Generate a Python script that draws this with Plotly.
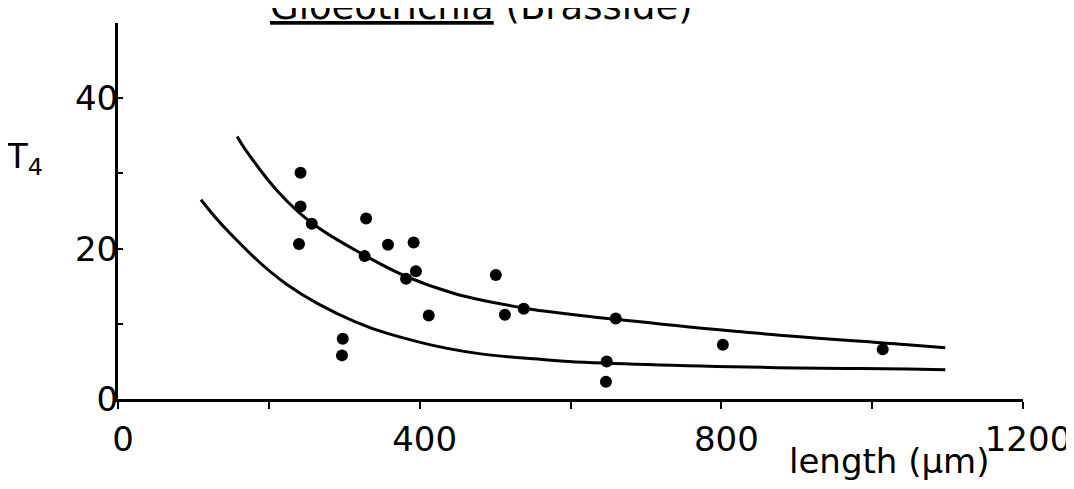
import plotly.graph_objects as go

# ---- data ----
obs_length = [242, 242, 257, 329, 240, 358, 392, 327, 395, 382, 501,
              412, 513, 538, 298, 297, 660, 802, 1014, 648, 647]
obs_t4 = [30.1, 25.6, 23.3, 24.0, 20.6, 20.5, 20.8, 19.0, 17.0, 16.0, 16.5,
          11.1, 11.2, 12.0, 8.0, 5.8, 10.7, 7.2, 6.6, 5.0, 2.3]

upper_x = [158, 168, 212, 257, 327, 382, 447, 538, 597, 660, 818, 1047, 1097]
upper_y = [34.9, 33.3, 27.6, 23.4, 19.1, 16.3, 14.0, 12.1, 11.3, 10.6, 9.0, 7.2, 6.8]

lower_x = [110, 146, 223, 314, 402, 481, 570, 597, 862, 1047, 1097]
lower_y = [26.5, 22.3, 15.3, 10.3, 7.5, 6.0, 5.2, 5.0, 4.2, 4.0, 3.9]

x_tickvals = [0, 200, 400, 600, 800, 1000, 1200]
x_ticktext = ["0", "", "400", "", "800", "", "1200"]
y_tickvals = [0, 10, 20, 30, 40, 50]
y_ticktext = ["0", "", "20", "", "40", ""]

FONT = "DejaVu Sans"

fig = go.Figure()
fig.add_trace(go.Scatter(x=upper_x, y=upper_y, mode="lines",
                         line=dict(color="black", width=3, shape="spline", smoothing=1.1),
                         hoverinfo="skip"))
fig.add_trace(go.Scatter(x=lower_x, y=lower_y, mode="lines",
                         line=dict(color="black", width=3, shape="spline", smoothing=1.1),
                         hoverinfo="skip"))
fig.add_trace(go.Scatter(x=obs_length, y=obs_t4, mode="markers",
                         marker=dict(color="black", size=12, line=dict(width=0))))

fig.update_layout(
    width=1074, height=489,
    margin=dict(l=110, r=59, t=15, b=98),
    paper_bgcolor="white", plot_bgcolor="white",
    showlegend=False,
    font=dict(family=FONT, color="black"),
)

fig.update_xaxes(range=[0, 1200], showgrid=False, zeroline=False,
                 showline=True, linecolor="black", linewidth=3,
                 ticks="outside", ticklen=7, tickwidth=2, tickcolor="black",
                 tickvals=x_tickvals, ticktext=x_ticktext,
                 tickfont=dict(family=FONT, size=34, color="black"),
                 ticklabelstandoff=1, ticklabelshift=5)
fig.update_yaxes(range=[0, 50], showgrid=False, zeroline=False,
                 showline=True, linecolor="black", linewidth=3,
                 ticks="inside", ticklen=5, tickwidth=2, tickcolor="black",
                 tickvals=y_tickvals, ticktext=y_ticktext,
                 tickfont=dict(family=FONT, size=34, color="black"),
                 ticklabelstandoff=-10)

# title (cut at the top like the scan)
fig.add_annotation(text="<u>Gloeotrichia</u> (Brasside)", xref="paper", yref="paper",
                   x=0.402, y=1, xanchor="center", yanchor="bottom", yshift=-7,
                   showarrow=False, font=dict(family=FONT, size=37, color="black"))
# y axis label
fig.add_annotation(text="T<sub>4</sub>", xref="paper", yref="paper",
                   x=-0.103, y=0.64, xanchor="center", yanchor="middle",
                   showarrow=False, font=dict(family=FONT, size=34, color="black"))
# x axis label
fig.add_annotation(text="length (μm)", xref="paper", yref="paper",
                   x=0.852, y=-0.165, xanchor="center", yanchor="middle",
                   showarrow=False, font=dict(family=FONT, size=34, color="black"))

fig.write_html("out.html")
